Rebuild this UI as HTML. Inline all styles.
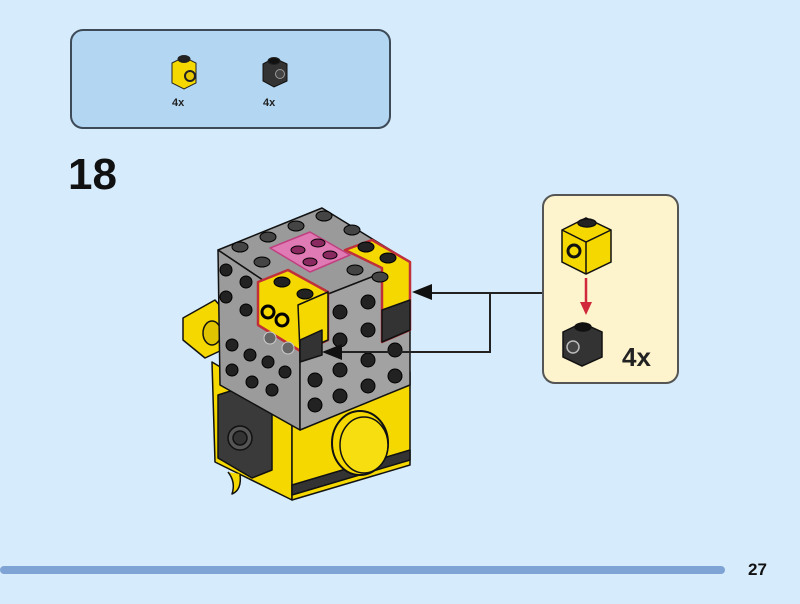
<!DOCTYPE html>
<html><head><meta charset="utf-8"><style>
html,body{margin:0;padding:0;background:#d6ebfb;}
svg{display:block;font-family:"Liberation Sans",sans-serif;}
</style></head><body>
<svg width="800" height="604" viewBox="0 0 800 604" xmlns="http://www.w3.org/2000/svg">
<rect width="800" height="604" fill="#d6ebfb"/>
<rect x="71" y="30" width="319" height="98" rx="12" fill="#b3d6f2" stroke="#3d4a58" stroke-width="2"/>
<g stroke="#222" stroke-width="1">
  <polygon points="172,63 184,57 196,63 196,83 184,89 172,83" fill="#f5d800"/>
  <ellipse cx="184" cy="59" rx="6" ry="3.5" fill="#222"/>
  <circle cx="190" cy="76" r="5" fill="#e8c800" stroke-width="2"/>
  <polygon points="263,64 274,58 287,64 287,81 274,87 263,81" fill="#333" stroke="#111"/>
  <ellipse cx="274" cy="61" rx="6" ry="3.5" fill="#111"/>
  <circle cx="280" cy="74" r="4.5" fill="#444" stroke="#999"/>
</g>
<text x="172" y="106" font-size="11" font-weight="bold" fill="#222">4x</text>
<text x="263" y="106" font-size="11" font-weight="bold" fill="#222">4x</text>
<text x="68" y="189" font-size="44" font-weight="bold" fill="#111">18</text>

<g stroke="#111" stroke-width="1.5" stroke-linejoin="round">
  <polygon points="183,318 215,300 222,308 222,350 205,358 183,340" fill="#f5d800"/>
  <ellipse cx="212" cy="333" rx="9" ry="12" fill="#e0c400"/>
  <polygon points="212,362 292,410 292,500 215,462" fill="#f5d800"/>
  <polygon points="292,410 410,372 410,465 292,500" fill="#f5d800"/>
  <polygon points="292,485 410,450 410,460 292,495" fill="#333"/>
  <ellipse cx="360" cy="443" rx="28" ry="32" fill="#f5d800" stroke-width="2"/>
  <ellipse cx="364" cy="445" rx="24" ry="28" fill="#f7de10"/>
  <polygon points="218,395 240,388 272,408 272,470 252,478 218,458" fill="#3a3a3a"/>
  <circle cx="240" cy="438" r="12" fill="#555"/>
  <circle cx="240" cy="438" r="7" fill="#333"/>
  <path d="M228 472 q8 10 4 22 q10 -4 8 -20" fill="#f5d800"/>
  <polygon points="218,250 322,208 410,262 300,305" fill="#9a9a9a"/>
  <polygon points="218,250 300,305 300,430 220,385" fill="#9b9b9b"/>
  <polygon points="300,305 410,262 410,385 300,430" fill="#a2a2a2"/>
  <polygon points="270,248 310,232 350,255 310,272" fill="#e07ab5" stroke="#c04080"/>
  <polygon points="345,250 372,240 410,262 410,330 382,342 382,268" fill="#f5d800" stroke="#c0303a" stroke-width="2.5"/>
  <polygon points="382,310 410,300 410,330 382,342" fill="#333"/>
  <polygon points="258,282 288,270 328,292 328,340 302,352 258,325" fill="#f5d800" stroke="#c0303a" stroke-width="2.5"/>
  <polygon points="298,305 328,292 328,340 300,352" fill="#f5d800"/>
  <polygon points="300,340 322,330 322,355 300,362" fill="#333"/>
</g>
<g fill="#222" stroke="#000" stroke-width="1">
  <ellipse cx="240" cy="247" rx="8" ry="5" fill="#444"/><ellipse cx="268" cy="237" rx="8" ry="5" fill="#444"/>
  <ellipse cx="296" cy="226" rx="8" ry="5" fill="#444"/><ellipse cx="324" cy="216" rx="8" ry="5" fill="#444"/>
  <ellipse cx="352" cy="230" rx="8" ry="5" fill="#444"/><ellipse cx="262" cy="262" rx="8" ry="5" fill="#444"/>
  <ellipse cx="355" cy="270" rx="8" ry="5" fill="#444"/><ellipse cx="380" cy="277" rx="8" ry="5" fill="#444"/>
  <ellipse cx="298" cy="250" rx="7" ry="4" fill="#8a2a60"/><ellipse cx="318" cy="243" rx="7" ry="4" fill="#8a2a60"/>
  <ellipse cx="310" cy="262" rx="7" ry="4" fill="#8a2a60"/><ellipse cx="330" cy="255" rx="7" ry="4" fill="#8a2a60"/>
  <ellipse cx="366" cy="247" rx="8" ry="5"/><ellipse cx="388" cy="258" rx="8" ry="5"/>
  <ellipse cx="282" cy="282" rx="8" ry="5"/><ellipse cx="305" cy="294" rx="8" ry="5"/>
  <circle cx="226" cy="270" r="6"/><circle cx="246" cy="282" r="6"/>
  <circle cx="226" cy="297" r="6"/><circle cx="246" cy="310" r="6"/>
  <circle cx="232" cy="345" r="6"/><circle cx="250" cy="355" r="6"/>
  <circle cx="232" cy="370" r="6"/><circle cx="252" cy="382" r="6"/>
  <circle cx="268" cy="312" r="6" fill="#f5d800" stroke-width="3"/><circle cx="282" cy="320" r="6" fill="#f5d800" stroke-width="3"/>
  <circle cx="270" cy="338" r="6" fill="#666" stroke="#ccc"/><circle cx="288" cy="348" r="6" fill="#666" stroke="#ccc"/>
  <circle cx="268" cy="362" r="6"/><circle cx="285" cy="372" r="6"/>
  <circle cx="272" cy="390" r="6"/>
  <circle cx="340" cy="312" r="7"/><circle cx="368" cy="302" r="7"/>
  <circle cx="340" cy="340" r="7"/><circle cx="368" cy="330" r="7"/>
  <circle cx="315" cy="380" r="7"/><circle cx="340" cy="370" r="7"/>
  <circle cx="368" cy="360" r="7"/><circle cx="395" cy="350" r="7"/>
  <circle cx="315" cy="405" r="7"/><circle cx="340" cy="396" r="7"/>
  <circle cx="368" cy="386" r="7"/><circle cx="395" cy="376" r="7"/>
</g>

<g stroke="#222" stroke-width="2" fill="none">
  <polyline points="543,293 425,293"/>
  <polyline points="490,293 490,352 335,352"/>
</g>
<polygon points="412,292 432,284 432,300" fill="#111"/>
<polygon points="322,352 342,344 342,360" fill="#111"/>

<rect x="543" y="195" width="135" height="188" rx="12" fill="#fdf3cc" stroke="#555" stroke-width="2"/>
<g stroke="#111" stroke-width="1.5">
  <polygon points="562,230 586,218 611,230 611,262 586,274 562,262" fill="#f5d800"/>
  <line x1="586" y1="242" x2="586" y2="274"/>
  <polyline points="562,230 586,242 611,230" fill="none"/>
  <ellipse cx="587" cy="223" rx="9" ry="4" fill="#222"/>
  <circle cx="574" cy="251" r="6" fill="#f5d800" stroke-width="3"/>
  <polygon points="563,332 582,323 602,332 602,357 582,366 563,357" fill="#333"/>
  <ellipse cx="583" cy="327" rx="8" ry="4" fill="#111"/>
  <circle cx="573" cy="347" r="6" fill="#444" stroke="#bbb"/>
</g>
<line x1="586" y1="278" x2="586" y2="306" stroke="#d0283a" stroke-width="2.5"/>
<polygon points="580,302 592,302 586,315" fill="#d0283a"/>
<text x="622" y="366" font-size="26" font-weight="bold" fill="#222">4x</text>

<rect x="0" y="566" width="725" height="8" rx="4" fill="#80a3d6"/>
<text x="748" y="575" font-size="17" font-weight="bold" fill="#111">27</text>
</svg>
</body></html>
